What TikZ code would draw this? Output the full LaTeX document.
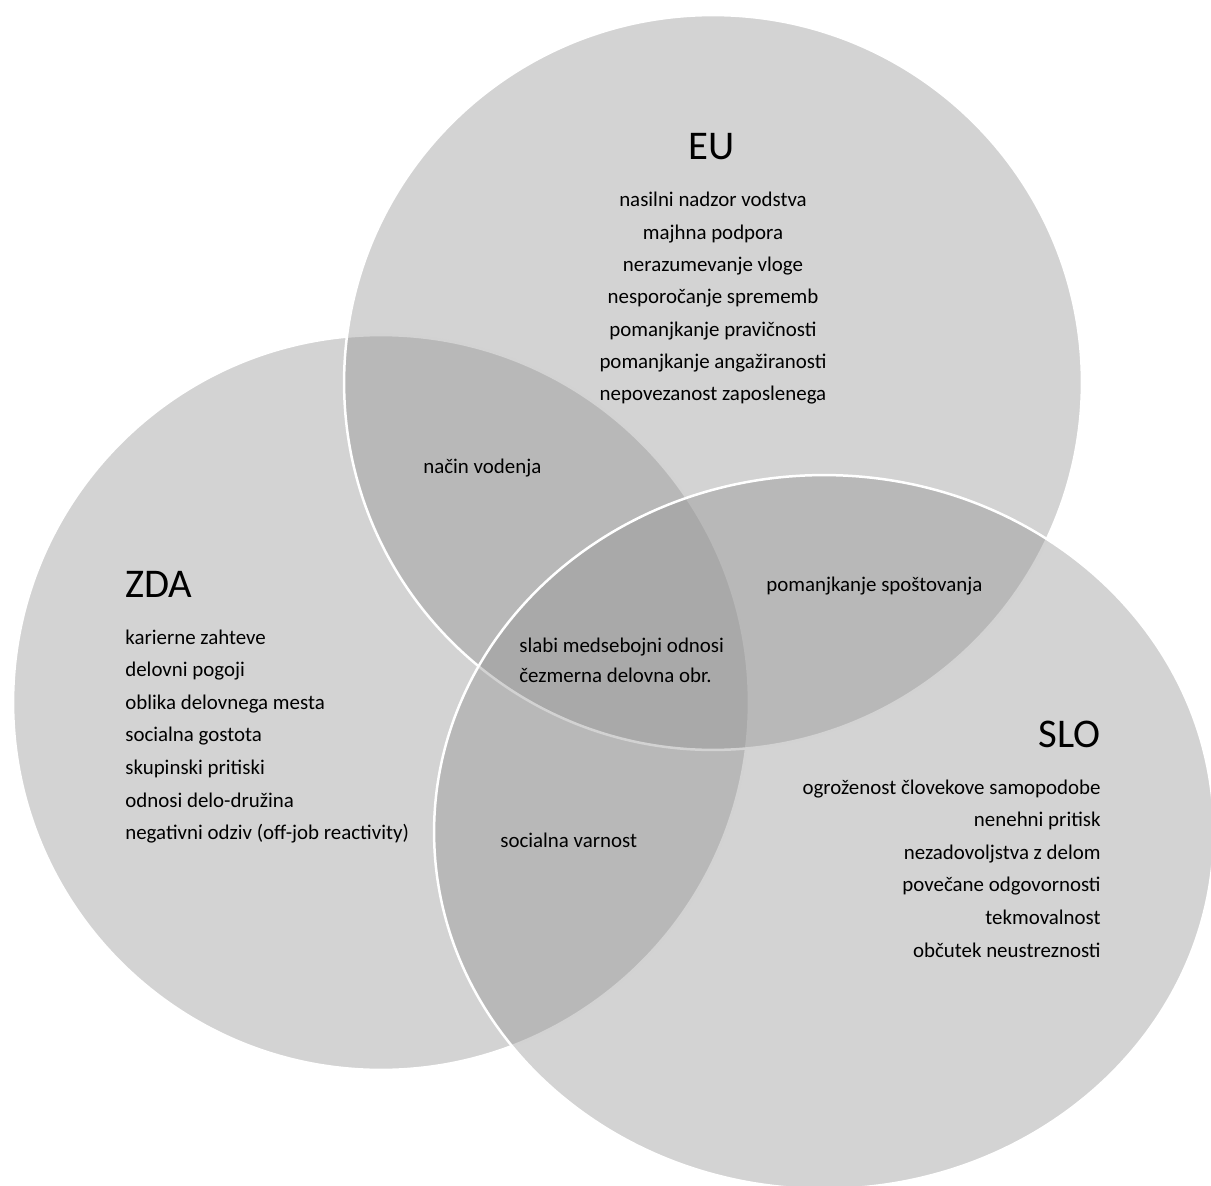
\documentclass[tikz,border=0pt]{standalone}
\usepackage{fontspec}
\setmainfont{Carlito}
\definecolor{vgray}{gray}{0.577}
\begin{document}
\begin{tikzpicture}[x=0.02cm,y=-0.02cm,
  venn/.style={fill=vgray, fill opacity=0.41, draw=white, line width=0.05cm},
  txt/.style={inner sep=0pt, font=\fontsize{11.9}{14}\selectfont, text=black},
  ttl/.style={inner sep=0pt, font=\fontsize{23.2}{28}\selectfont, text=black}]
\useasboundingbox (0,0) rectangle (1211,1186);
\clip (0,0) rectangle (1211,1186);
% circles: ZDA, EU, SLO (in drawing order)
\path[venn] (381,702.5) ellipse [x radius=7.36cm, y radius=7.35cm];
\path[venn] (713,382.5) ellipse [x radius=7.38cm, y radius=7.35cm];
\path[venn] (824,832) ellipse [x radius=7.8cm, y radius=7.14cm];
% titles
\node[ttl, anchor=base] (euT) at (712,159) {EU};
\node[ttl, anchor=base west] (zdaT) at (125,597) {ZDA};
\node[ttl, anchor=base east] (sloT) at (1101,747) {SLO};
% EU list
\foreach \t [count=\i from 0] in {nasilni nadzor vodstva, majhna podpora, nerazumevanje vloge, nesporočanje sprememb, pomanjkanje pravičnosti, pomanjkanje angažiranosti, nepovezanost zaposlenega}
  \node[txt, anchor=base] (eu\i) at (713,{207+32.3*\i}) {\t};
% ZDA list
\foreach \t [count=\i from 0] in {karierne zahteve, delovni pogoji, oblika delovnega mesta, socialna gostota, skupinski pritiski, odnosi delo-družina, negativni odziv (off-job reactivity)}
  \node[txt, anchor=base west] (zda\i) at (125,{644+32.6*\i}) {\t};
% SLO list
\foreach \t [count=\i from 0] in {ogroženost človekove samopodobe, nenehni pritisk, nezadovoljstva z delom, povečane odgovornosti, tekmovalnost, občutek neustreznosti}
  \node[txt, anchor=base east] (slo\i) at (1101,{794+32.6*\i}) {\t};
% intersections
\node[txt, anchor=base west] (euzda) at (423,473) {način vodenja};
\node[txt, anchor=base west] (euslo) at (766,591) {pomanjkanje spoštovanja};
\node[txt, anchor=base west] (all1) at (519,652) {slabi medsebojni odnosi};
\node[txt, anchor=base west] (all2) at (519,682) {čezmerna delovna obr.};
\node[txt, anchor=base west] (zdaslo) at (500,847) {socialna varnost};
\end{tikzpicture}
\end{document}
